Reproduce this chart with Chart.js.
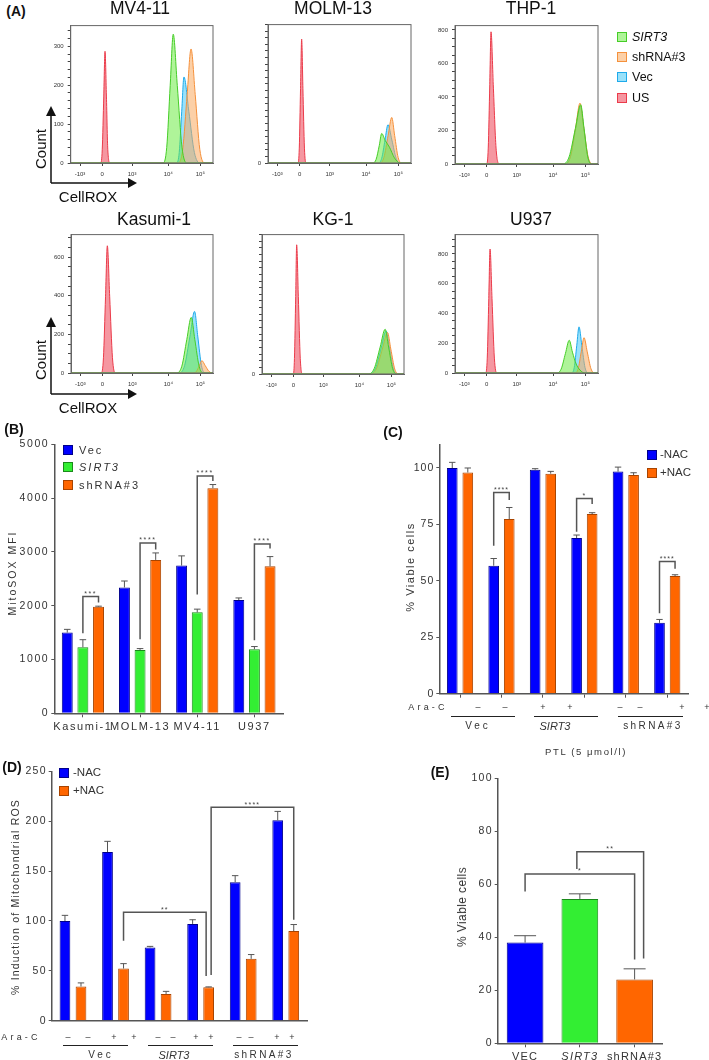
<!DOCTYPE html>
<html>
<head>
<meta charset="utf-8">
<script src="https://cdn.jsdelivr.net/npm/chart.js@4.4.0/dist/chart.umd.min.js"></script>
<style>
  body { margin: 0; background: #fff; }
  #page { position: relative; width: 709px; height: 1060px; overflow: hidden;
          font-family: Arial, "Liberation Sans", sans-serif; color: #333; }
  #page canvas { position: absolute; }
  .t { position: absolute; white-space: nowrap; line-height: 1; }
  .sq { position: absolute; width: 10px; height: 10px; box-sizing: border-box; }
  .ln { position: absolute; height: 0; border-top: 1.5px solid #222; }
</style>
</head>
<body>
<div id="page"></div>
<script>
const FONT = 'Arial, "Liberation Sans", sans-serif';

// ---- (A) flow histograms: [channel, count] points ----
const xTickPos = [67, 226, 442, 702, 933];
const xTickText = ['-10³', '0', '10³', '10⁴', '10⁵'];

const mv411Sirt3 = [[666,0],[691,40],[716,199],[738,331],[767,199],[801,40],[835,0]];
const mv411Sh    = [[773,0],[806,35],[838,176],[866,293],[896,176],[929,35],[966,0]];
const mv411Vec   = [[763,0],[781,27],[799,133],[815,221],[850,133],[890,27],[930,0]];
const mv411US    = [[216,0],[227,34],[238,172],[247,287],[257,172],[267,34],[283,0]];

const molmSirt3 = [[752,0],[774,27],[797,134],[814,224],[840,170],[870,120],[905,40],[945,0]];
const molmSh    = [[800,0],[830,42],[860,208],[886,346],[907,208],[932,42],[957,0]];
const molmVec   = [[790,0],[814,35],[838,175],[859,291],[887,175],[918,35],[950,0]];
const molmUS    = [[215,0],[224,113],[233,565],[241,942],[250,565],[261,113],[272,0]];

const thpSirt3 = [[773,0],[817,42],[862,212],[900,354],[924,212],[951,42],[979,0]];
const thpSh    = [[790,0],[827,44],[864,218],[895,363],[922,218],[953,44],[985,0]];
const thpVec   = [[785,0],[825,41],[864,207],[898,345],[923,207],[951,41],[982,0]];
const thpUS    = [[227,0],[238,95],[249,473],[258,789],[274,473],[294,95],[317,0]];

const kasSirt3 = [[762,0],[799,35],[835,173],[867,288],[893,173],[924,35],[954,0]];
const kasSh    = [[882,0],[904,8],[925,38],[944,64],[968,38],[996,8],[1022,0]];
const kasVec   = [[780,0],[819,38],[858,191],[891,319],[914,191],[941,38],[968,0]];
const kasUS    = [[219,0],[234,79],[249,395],[262,659],[279,395],[299,79],[319,0]];

const kgSirt3 = [[767,0],[809,41],[852,203],[888,338],[913,203],[942,41],[971,0]];
const kgSh    = [[780,0],[824,38],[868,188],[905,313],[929,188],[957,38],[985,0]];
const kgVec   = [[775,0],[817,39],[859,195],[895,325],[920,195],[948,39],[978,0]];
const kgUS    = [[226,0],[234,117],[243,585],[250,975],[262,585],[276,117],[291,0]];

const uSirt3 = [[728,0],[760,26],[791,132],[818,220],[841,140],[868,60],[895,20],[930,0]];
const uSh    = [[859,0],[882,28],[904,142],[924,237],[947,142],[974,28],[1002,0]];
const uVec   = [[835,0],[854,37],[872,186],[888,310],[908,186],[931,37],[954,0]];
const uUS    = [[220,0],[231,100],[242,500],[251,833],[265,500],[282,100],[299,0]];

// ---- (B) MitoSOX MFI ----
const bLines = ['Kasumi-1', 'MOLM-13', 'MV4-11', 'U937'];
const bVec = [1500, 2339, 2746, 2104];
const bVecErr = [60, 120, 180, 40];
const bSirt3 = [1228, 1178, 1876, 1191];
const bSirt3Err = [140, 25, 60, 50];
const bSh = [1981, 2851, 4185, 2733];
const bShErr = [10, 130, 67, 180];

// ---- (C) % viable cells, PTL ----
const cConditions = ['1', '2', '3', '4', '5', '6'];
const cMinusNac = [100, 56.7, 99.2, 69.0, 98.4, 31.4];
const cMinusErr = [2.5, 3.2, 0.5, 1.3, 2.0, 1.5];
const cPlusNac = [98, 77.4, 97.5, 79.6, 96.9, 52.1];
const cPlusErr = [2.0, 5.1, 1.0, 0.6, 1.0, 0.6];

// ---- (D) % induction of mitochondrial ROS ----
const dConditions = ['1', '2', '3', '4', '5', '6'];
const dMinusNac = [100, 169, 73.5, 97, 138.9, 201];
const dMinusErr = [5.6, 10.8, 1.0, 4.2, 6.5, 8.8];
const dPlusNac = [34.3, 52.3, 26.8, 33.6, 62, 89.9];
const dPlusErr = [3.6, 4.9, 2.6, 0.3, 4.3, 6.5];

// ---- (E) % viable cells ----
const eGroups = ['VEC', 'SIRT3', 'shRNA#3'];
const eViable = [38.0, 54.5, 24.1];
const eErr = [2.6, 1.9, 4.0];

const BLUE = '#0000ff', GREEN = '#33ee33', ORANGE = '#ff6600';

const page = document.getElementById('page');

function put(html, x, y, o = {}) {
  const d = document.createElement('div');
  d.className = 't';
  d.innerHTML = html;
  const ax = o.align === 'l' ? '0' : '-50%';
  d.style.left = x + 'px';
  d.style.top = y + 'px';
  d.style.fontSize = (o.size || 11) + 'px';
  if (o.bold) d.style.fontWeight = 'bold';
  if (o.italic) d.style.fontStyle = 'italic';
  if (o.ls) d.style.letterSpacing = o.ls + 'px';
  if (o.color) d.style.color = o.color;
  d.style.transform = `translate(${ax},-50%)` + (o.rot ? ' rotate(-90deg)' : '');
  page.appendChild(d);
}
function square(x, cy, fill, border) {
  const d = document.createElement('div');
  d.className = 'sq';
  d.style.left = x + 'px';
  d.style.top = (cy - 5) + 'px';
  d.style.background = fill;
  d.style.border = '1px solid ' + border;
  page.appendChild(d);
}
function rule(x1, x2, y) {
  const d = document.createElement('div');
  d.className = 'ln';
  d.style.left = x1 + 'px';
  d.style.top = y + 'px';
  d.style.width = (x2 - x1) + 'px';
  page.appendChild(d);
}
function canvasAt(left, top, w, h) {
  const c = document.createElement('canvas');
  c.width = w; c.height = h;
  c.style.left = left + 'px'; c.style.top = top + 'px';
  c.style.width = w + 'px'; c.style.height = h + 'px';
  page.appendChild(c);
  return c;
}

// ---------- panel A ----------
const histStyle = [
  { fill: 'rgba(110,235,70,0.55)', line: 'rgb(70,205,40)' },   // SIRT3
  { fill: 'rgba(250,170,95,0.55)', line: 'rgb(245,145,60)' },  // shRNA#3
  { fill: 'rgba(70,200,245,0.55)', line: 'rgb(30,170,235)' },  // Vec
  { fill: 'rgba(240,95,110,0.65)', line: 'rgb(235,60,75)' }    // US
];

const frame = {
  id: 'frame',
  afterDraw(chart) {
    const a = chart.chartArea, ctx = chart.ctx;
    ctx.save();
    ctx.strokeStyle = '#666';
    ctx.lineWidth = 1;
    ctx.strokeRect(a.left, a.top, a.right - a.left, a.bottom - a.top);
    ctx.restore();
  }
};

function histogram(box, yMax, minor, major, curves) {
  const [l, t, w, h] = box;
  const padL = 24, padT = 5, padR = 5, padB = 18;
  const c = canvasAt(Math.round(l - padL), Math.round(t - padT), Math.round(w + padL + padR), Math.round(h + padT + padB));
  const yW = l - Math.round(l - padL);
  new Chart(c, {
    type: 'line',
    data: {
      datasets: curves.map((pts, i) => ({
        data: [[0, 0], ...pts, [1024, 0]],
        backgroundColor: histStyle[i].fill,
        borderColor: histStyle[i].line,
        borderWidth: 1,
        fill: 'origin',
        pointRadius: 0,
        cubicInterpolationMode: 'monotone'
      }))
    },
    options: {
      responsive: false, animation: false, devicePixelRatio: 1,
      layout: { padding: { top: t - Math.round(t - padT), right: padR, left: 0, bottom: 0 }, autoPadding: false },
      plugins: { legend: { display: false }, tooltip: { enabled: false } },
      scales: {
        x: {
          type: 'linear', min: 0, max: 1024,
          afterFit: s => { s.height = padB; },
          afterBuildTicks: s => { s.ticks = xTickPos.map(v => ({ value: v })); },
          ticks: { callback: (v, i) => xTickText[i], font: { size: 6, family: FONT }, color: '#333', padding: 5, maxRotation: 0 },
          grid: { drawOnChartArea: false, tickLength: 3, tickColor: '#444' },
          border: { color: '#666' }
        },
        y: {
          min: 0, max: yMax,
          afterFit: s => { s.width = yW; },
          ticks: {
            stepSize: minor, autoSkip: false, includeBounds: false,
            callback: v => v % major === 0 ? (v >= 1000 ? (v / 1000).toFixed(1) + 'K' : String(v)) : '',
            font: { size: 6, family: FONT }, color: '#333', padding: 4
          },
          grid: { drawOnChartArea: false, tickLength: 3, tickColor: '#444' },
          border: { color: '#666' }
        }
      }
    },
    plugins: [frame]
  });
}

histogram([70.7, 23, 142.3, 139.5], 353, 20, 100, [mv411Sirt3, mv411Sh, mv411Vec, mv411US]);
histogram([268, 22, 143, 141], 1052, 50, 200, [molmSirt3, molmSh, molmVec, molmUS]);
histogram([455, 23, 143, 140.5], 826, 50, 200, [thpSirt3, thpSh, thpVec, thpUS]);
histogram([71, 232, 142, 140.5], 717, 50, 200, [kasSirt3, kasSh, kasVec, kasUS]);
histogram([262, 232, 142, 142], 1052, 50, 200, [kgSirt3, kgSh, kgVec, kgUS]);
histogram([455, 232, 143, 140.5], 930, 50, 200, [uSirt3, uSh, uVec, uUS]);

put('(A)', 16, 11, { size: 14, bold: true, color: '#111' });
[['MV4-11', 140, 9], ['MOLM-13', 333, 9], ['THP-1', 531, 9],
 ['Kasumi-1', 154, 220], ['KG-1', 333, 220], ['U937', 531, 220]]
  .forEach(([s, x, y]) => put(s, x, y, { size: 17.5, color: '#111' }));
put('Count', 40, 149, { size: 15, rot: true, color: '#111' });
put('CellROX', 88, 196, { size: 15, color: '#111' });
put('Count', 40, 360, { size: 15, rot: true, color: '#111' });
put('CellROX', 88, 407, { size: 15, color: '#111' });

const ns = 'http://www.w3.org/2000/svg';
const svg = document.createElementNS(ns, 'svg');
svg.setAttribute('width', 709); svg.setAttribute('height', 1060);
svg.style.position = 'absolute'; svg.style.left = '0'; svg.style.top = '0';
svg.innerHTML =
  '<g stroke="#111" stroke-width="1.5" fill="#111">' +
  '<line x1="51" y1="183" x2="51" y2="114"/><polygon points="46,116 56,116 51,106" stroke="none"/>' +
  '<line x1="51" y1="183" x2="129" y2="183"/><polygon points="128,178 128,188 137,183" stroke="none"/>' +
  '<line x1="51" y1="394" x2="51" y2="325"/><polygon points="46,327 56,327 51,317" stroke="none"/>' +
  '<line x1="51" y1="394" x2="129" y2="394"/><polygon points="128,389 128,399 137,394" stroke="none"/>' +
  '</g>';
page.appendChild(svg);

[['<i>SIRT3</i>', 37], ['shRNA#3', 57], ['Vec', 77], ['US', 98]].forEach(([s, y], i) => {
  square(617, y, histStyle[i].fill, histStyle[i].line);
  put(s, 632, y, { size: 12.5, align: 'l', color: '#111' });
});

// ---------- bar panels ----------
const errorBars = {
  id: 'errorBars',
  afterDatasetsDraw(chart) {
    const ctx = chart.ctx, y = chart.scales.y;
    chart.data.datasets.forEach((ds, i) => {
      if (!ds.errors) return;
      chart.getDatasetMeta(i).data.forEach((bar, j) => {
        const top = y.getPixelForValue(ds.data[j] + ds.errors[j]);
        const half = bar.width * 0.3;
        ctx.save();
        ctx.strokeStyle = '#555';
        ctx.lineWidth = 1;
        ctx.beginPath();
        ctx.moveTo(bar.x, bar.y); ctx.lineTo(bar.x, top);
        ctx.moveTo(bar.x - half, top); ctx.lineTo(bar.x + half, top);
        ctx.stroke();
        ctx.restore();
      });
    });
  }
};

function brackets(list) {
  return {
    id: 'brackets',
    afterDatasetsDraw(chart) {
      const ctx = chart.ctx, y = chart.scales.y;
      list.forEach(b => {
        const xa = chart.getDatasetMeta(b.a[0]).data[b.a[1]].x + (b.a[2] || 0);
        const xb = chart.getDatasetMeta(b.b[0]).data[b.b[1]].x + (b.b[2] || 0);
        const yt = y.getPixelForValue(b.top);
        ctx.save();
        ctx.strokeStyle = '#555';
        ctx.lineWidth = 1.5;
        ctx.beginPath();
        ctx.moveTo(xa, y.getPixelForValue(b.ya));
        ctx.lineTo(xa, yt);
        ctx.lineTo(xb, yt);
        ctx.lineTo(xb, y.getPixelForValue(b.yb));
        ctx.stroke();
        ctx.fillStyle = '#444';
        ctx.font = '7px ' + FONT;
        ctx.textAlign = 'center';
        ctx.textBaseline = 'bottom';
        ctx.fillText(b.label, (xa + xb) / 2, yt + 1);
        ctx.restore();
      });
    }
  };
}

const spacing = px => ({ id: 'spacing', beforeDraw(chart) { chart.ctx.letterSpacing = px + 'px'; } });

function barDataset(values, errs, color, border) {
  return { data: values, errors: errs, backgroundColor: color, borderColor: border, borderWidth: 1 };
}

function barChart(o) {
  const c = canvasAt(o.left, o.top, o.w, o.h);
  new Chart(c, {
    type: 'bar',
    data: { labels: o.labels, datasets: o.datasets },
    options: {
      responsive: false, animation: false, devicePixelRatio: 1,
      categoryPercentage: o.catPct, barPercentage: o.barPct,
      layout: { padding: { top: o.padT, right: 6, left: 0, bottom: 0 }, autoPadding: false },
      plugins: { legend: { display: false }, tooltip: { enabled: false } },
      scales: {
        x: {
          afterFit: s => { s.height = o.xH; },
          ticks: {
            display: o.xLabels, autoSkip: false, maxRotation: 0, minRotation: 0, padding: 3,
            color: '#333', font: o.xFont || { size: 11, family: FONT }
          },
          grid: { drawOnChartArea: false, offset: false, drawTicks: o.xTicks, tickLength: 4, tickColor: '#555' },
          border: { color: '#555', width: 1.5 }
        },
        y: {
          min: 0, max: o.yMax,
          afterFit: s => { s.width = o.yW; },
          ticks: {
            stepSize: o.step, includeBounds: false, color: '#333', padding: 2,
            font: { size: 10.5, family: FONT }, callback: v => String(v)
          },
          grid: { drawOnChartArea: false, tickLength: 3, tickColor: '#555' },
          border: { color: '#555', width: 1.5 }
        }
      }
    },
    plugins: [spacing(o.ls), errorBars, brackets(o.brackets)]
  });
}

// (B)
barChart({
  left: 0, top: 436, w: 289, h: 299, padT: 7.3, yW: 54.3, xH: 21.7, yMax: 5000, step: 1000,
  catPct: 0.82, barPct: 0.7, ls: 1.6, xLabels: true, xTicks: true,
  labels: bLines,
  datasets: [
    barDataset(bVec, bVecErr, BLUE, '#00008a'),
    barDataset(bSirt3, bSirt3Err, GREEN, '#1a8a1a'),
    barDataset(bSh, bShErr, ORANGE, '#a84400')
  ],
  brackets: [
    { a: [1, 0], b: [2, 0], top: 2172, ya: 1487, yb: 2061, label: '***' },
    { a: [1, 1], b: [2, 1], top: 3167, ya: 1376, yb: 3043, label: '****' },
    { a: [1, 2], b: [2, 2], top: 4413, ya: 2209, yb: 4320, label: '****' },
    { a: [1, 3], b: [2, 3], top: 3148, ya: 1357, yb: 3061, label: '****' }
  ]
});
put('(B)', 14, 429, { size: 14, bold: true, color: '#111' });
put('MitoSOX MFI', 12, 573, { size: 10.5, ls: 2, rot: true });
[['Vec', 450, BLUE, '#00008a'], ['<i>SIRT3</i>', 467, GREEN, '#1a8a1a'], ['shRNA#3', 485, ORANGE, '#a84400']]
  .forEach(([s, y, f, b]) => { square(63, y, f, b); put(s, 79, y, { size: 11, ls: 2, align: 'l' }); });

// (C)
barChart({
  left: 395, top: 436, w: 299, h: 266, padT: 7, yW: 44.3, xH: 8, yMax: 110.5, step: 25,
  catPct: 0.75, barPct: 0.686, ls: 1, xLabels: false, xTicks: true,
  labels: cConditions,
  datasets: [
    barDataset(cMinusNac, cMinusErr, BLUE, '#00008a'),
    barDataset(cPlusNac, cPlusErr, ORANGE, '#a84400')
  ],
  brackets: [
    { a: [0, 1], b: [1, 1], top: 89.1, ya: 65.6, yb: 85.8, label: '****' },
    { a: [0, 3], b: [1, 3], top: 86.5, ya: 71.8, yb: 84.0, label: '*' },
    { a: [0, 5], b: [1, 5], top: 58.6, ya: 35.6, yb: 55.4, label: '****' }
  ]
});
put('(C)', 393, 432, { size: 14, bold: true, color: '#111' });
put('% Viable cells', 410, 567, { size: 11, ls: 1.5, rot: true });
square(647, 455, BLUE, '#00008a'); put('-NAC', 660, 455, { size: 11.5, align: 'l' });
square(647, 473, ORANGE, '#a84400'); put('+NAC', 660, 473, { size: 11.5, align: 'l' });
put('Ara-C', 428, 707, { size: 9, ls: 3.2 });
[['–', 478], ['–', 505], ['+', 543], ['+', 570], ['–', 620], ['–', 640], ['+', 682], ['+', 707]]
  .forEach(([s, x]) => put(s, x, 707, { size: 9 }));
rule(451, 515, 716); rule(534, 598, 716); rule(618, 683, 716);
put('Vec', 478, 726, { size: 10, ls: 3 });
put('<i>SIRT3</i>', 555, 726, { size: 11 });
put('shRNA#3', 653, 726, { size: 10, ls: 2.4 });
put('PTL (5 μmol/l)', 586, 752, { size: 9.5, ls: 1.6 });

// (D)
barChart({
  left: 0, top: 763, w: 313, h: 266, padT: 7, yW: 51.7, xH: 4, yMax: 250, step: 50,
  catPct: 0.753, barPct: 0.67, ls: 1.2, xLabels: false, xTicks: false,
  labels: dConditions,
  datasets: [
    barDataset(dMinusNac, dMinusErr, BLUE, '#00008a'),
    barDataset(dPlusNac, dPlusErr, ORANGE, '#a84400')
  ],
  brackets: [
    { a: [1, 1], b: [1, 3, -2.5], top: 108.8, ya: 80.1, yb: 44.8, label: '**' },
    { a: [1, 3, 2.5], b: [1, 5], top: 214, ya: 45.8, yb: 101.3, label: '****' }
  ]
});
put('(D)', 12, 767, { size: 14, bold: true, color: '#111' });
put('% Induction of Mitochondrial ROS', 15, 897, { size: 10.5, ls: 1.2, rot: true });
square(59, 773, BLUE, '#00008a'); put('-NAC', 73, 773, { size: 11.5, align: 'l' });
square(59, 791, ORANGE, '#a84400'); put('+NAC', 73, 791, { size: 11.5, align: 'l' });
put('Ara-C', 21, 1037, { size: 9, ls: 3.2 });
[['–', 68], ['–', 88], ['+', 114], ['+', 134], ['–', 158], ['–', 173],
 ['+', 196], ['+', 211], ['–', 239], ['–', 251], ['+', 277], ['+', 292]]
  .forEach(([s, x]) => put(s, x, 1037, { size: 9 }));
rule(63, 128, 1045); rule(148, 213, 1045); rule(233, 298, 1045);
put('Vec', 101, 1055, { size: 10, ls: 3 });
put('<i>SIRT3</i>', 174, 1055, { size: 11 });
put('shRNA#3', 264, 1055, { size: 10, ls: 2.4 });

// (E)
barChart({
  left: 455, top: 770, w: 213, h: 290, padT: 7.3, yW: 42.7, xH: 16.7, yMax: 100, step: 20,
  catPct: 0.67, barPct: 1, ls: 1.2, xLabels: true, xTicks: true,
  xFont: ctx => ({ size: 11, family: FONT, style: ctx.index === 1 ? 'italic' : 'normal' }),
  labels: eGroups,
  datasets: [{
    data: eViable, errors: eErr, borderWidth: 1,
    backgroundColor: [BLUE, GREEN, ORANGE],
    borderColor: ['#00008a', '#1a8a1a', '#a84400']
  }],
  brackets: [
    { a: [0, 0], b: [0, 2], top: 63.9, ya: 57.3, yb: 31.6, label: '*' },
    { a: [0, 1, -3], b: [0, 2, 9], top: 72.3, ya: 65.8, yb: 32.0, label: '**' }
  ]
});
put('(E)', 440, 772, { size: 14, bold: true, color: '#111' });
put('% Viable cells', 462, 907, { size: 12, ls: 0.4, rot: true });
</script>
</body>
</html>
